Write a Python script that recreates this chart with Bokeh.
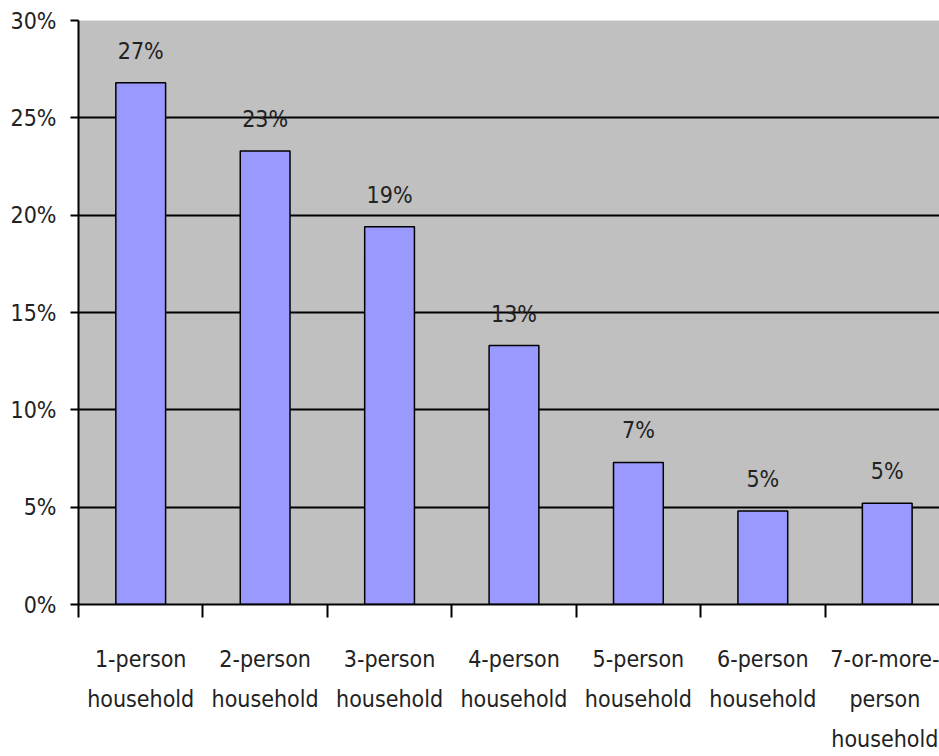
from bokeh.plotting import figure
from bokeh.models import FixedTicker, PrintfTickFormatter, Range1d, ColumnDataSource
from bokeh.core.properties import value
from bokeh.embed import file_html
from bokeh.resources import INLINE

categories = ["1-person\nhousehold", "2-person\nhousehold", "3-person\nhousehold",
              "4-person\nhousehold", "5-person\nhousehold", "6-person\nhousehold",
              "7-or-more-\nperson\nhousehold"]
shares = [26.8, 23.3, 19.4, 13.3, 7.3, 4.8, 5.2]
share_labels = ["27%", "23%", "19%", "13%", "7%", "5%", "5%"]
y_ticks = [0, 5, 10, 15, 20, 25, 30]

FONT = "DejaVu Sans Condensed, Liberation Sans, sans-serif"
FS = "23px"

xs = [i + 0.5 for i in range(len(categories))]
src = ColumnDataSource(dict(x=xs, top=shares, label=share_labels))

p = figure(width=939, height=756, output_backend="svg", toolbar_location=None,
           x_range=Range1d(0, 6.92), y_range=Range1d(0, 30),
           min_border_left=78, min_border_right=0, min_border_top=20, min_border_bottom=152)
p.background_fill_color = "#C0C0C0"
p.border_fill_color = "white"
p.outline_line_color = None

p.vbar(x="x", top="top", width=0.4, bottom=0, source=src,
       fill_color="#9999FF", line_color="black", line_width=1.5)
p.text(x="x", y="top", text="label", source=src, text_align="center",
       text_baseline="middle", y_offset=-32, text_font=value(FONT),
       text_font_size=FS, text_color="#222222")

# y axis
p.yaxis.ticker = FixedTicker(ticks=y_ticks)
p.yaxis.formatter = PrintfTickFormatter(format="%d%%")
p.yaxis.axis_line_color = "black"
p.yaxis.axis_line_width = 2
p.yaxis.major_tick_in = 0
p.yaxis.major_tick_out = 8
p.yaxis.major_tick_line_width = 2
p.yaxis.minor_tick_line_color = None
p.yaxis.major_label_standoff = 14
p.yaxis.major_label_text_font = FONT
p.yaxis.major_label_text_font_size = FS
p.yaxis.major_label_text_color = "#222222"

# x axis
p.xaxis.ticker = FixedTicker(ticks=xs, minor_ticks=list(range(len(categories) + 1)))
p.xaxis.major_label_overrides = {x: c for x, c in zip(xs, categories)}
p.xaxis.axis_line_color = "black"
p.xaxis.axis_line_width = 2
p.xaxis.major_tick_line_color = None
p.xaxis.major_tick_in = 0
p.xaxis.major_tick_out = 0
p.xaxis.minor_tick_in = 0
p.xaxis.minor_tick_out = 13
p.xaxis.minor_tick_line_width = 2
p.xaxis.minor_tick_line_color = "black"
p.xaxis.major_label_standoff = 28
p.xaxis.major_label_text_font = FONT
p.xaxis.major_label_text_font_size = FS
p.xaxis.major_label_text_color = "#222222"
p.xaxis.major_label_text_line_height = 1.55

p.xgrid.grid_line_color = None
p.ygrid.ticker = FixedTicker(ticks=y_ticks)
p.ygrid.grid_line_color = "black"
p.ygrid.grid_line_width = 2
p.ygrid.grid_line_alpha = 1.0

open("out.html", "w").write(file_html(p, INLINE))
